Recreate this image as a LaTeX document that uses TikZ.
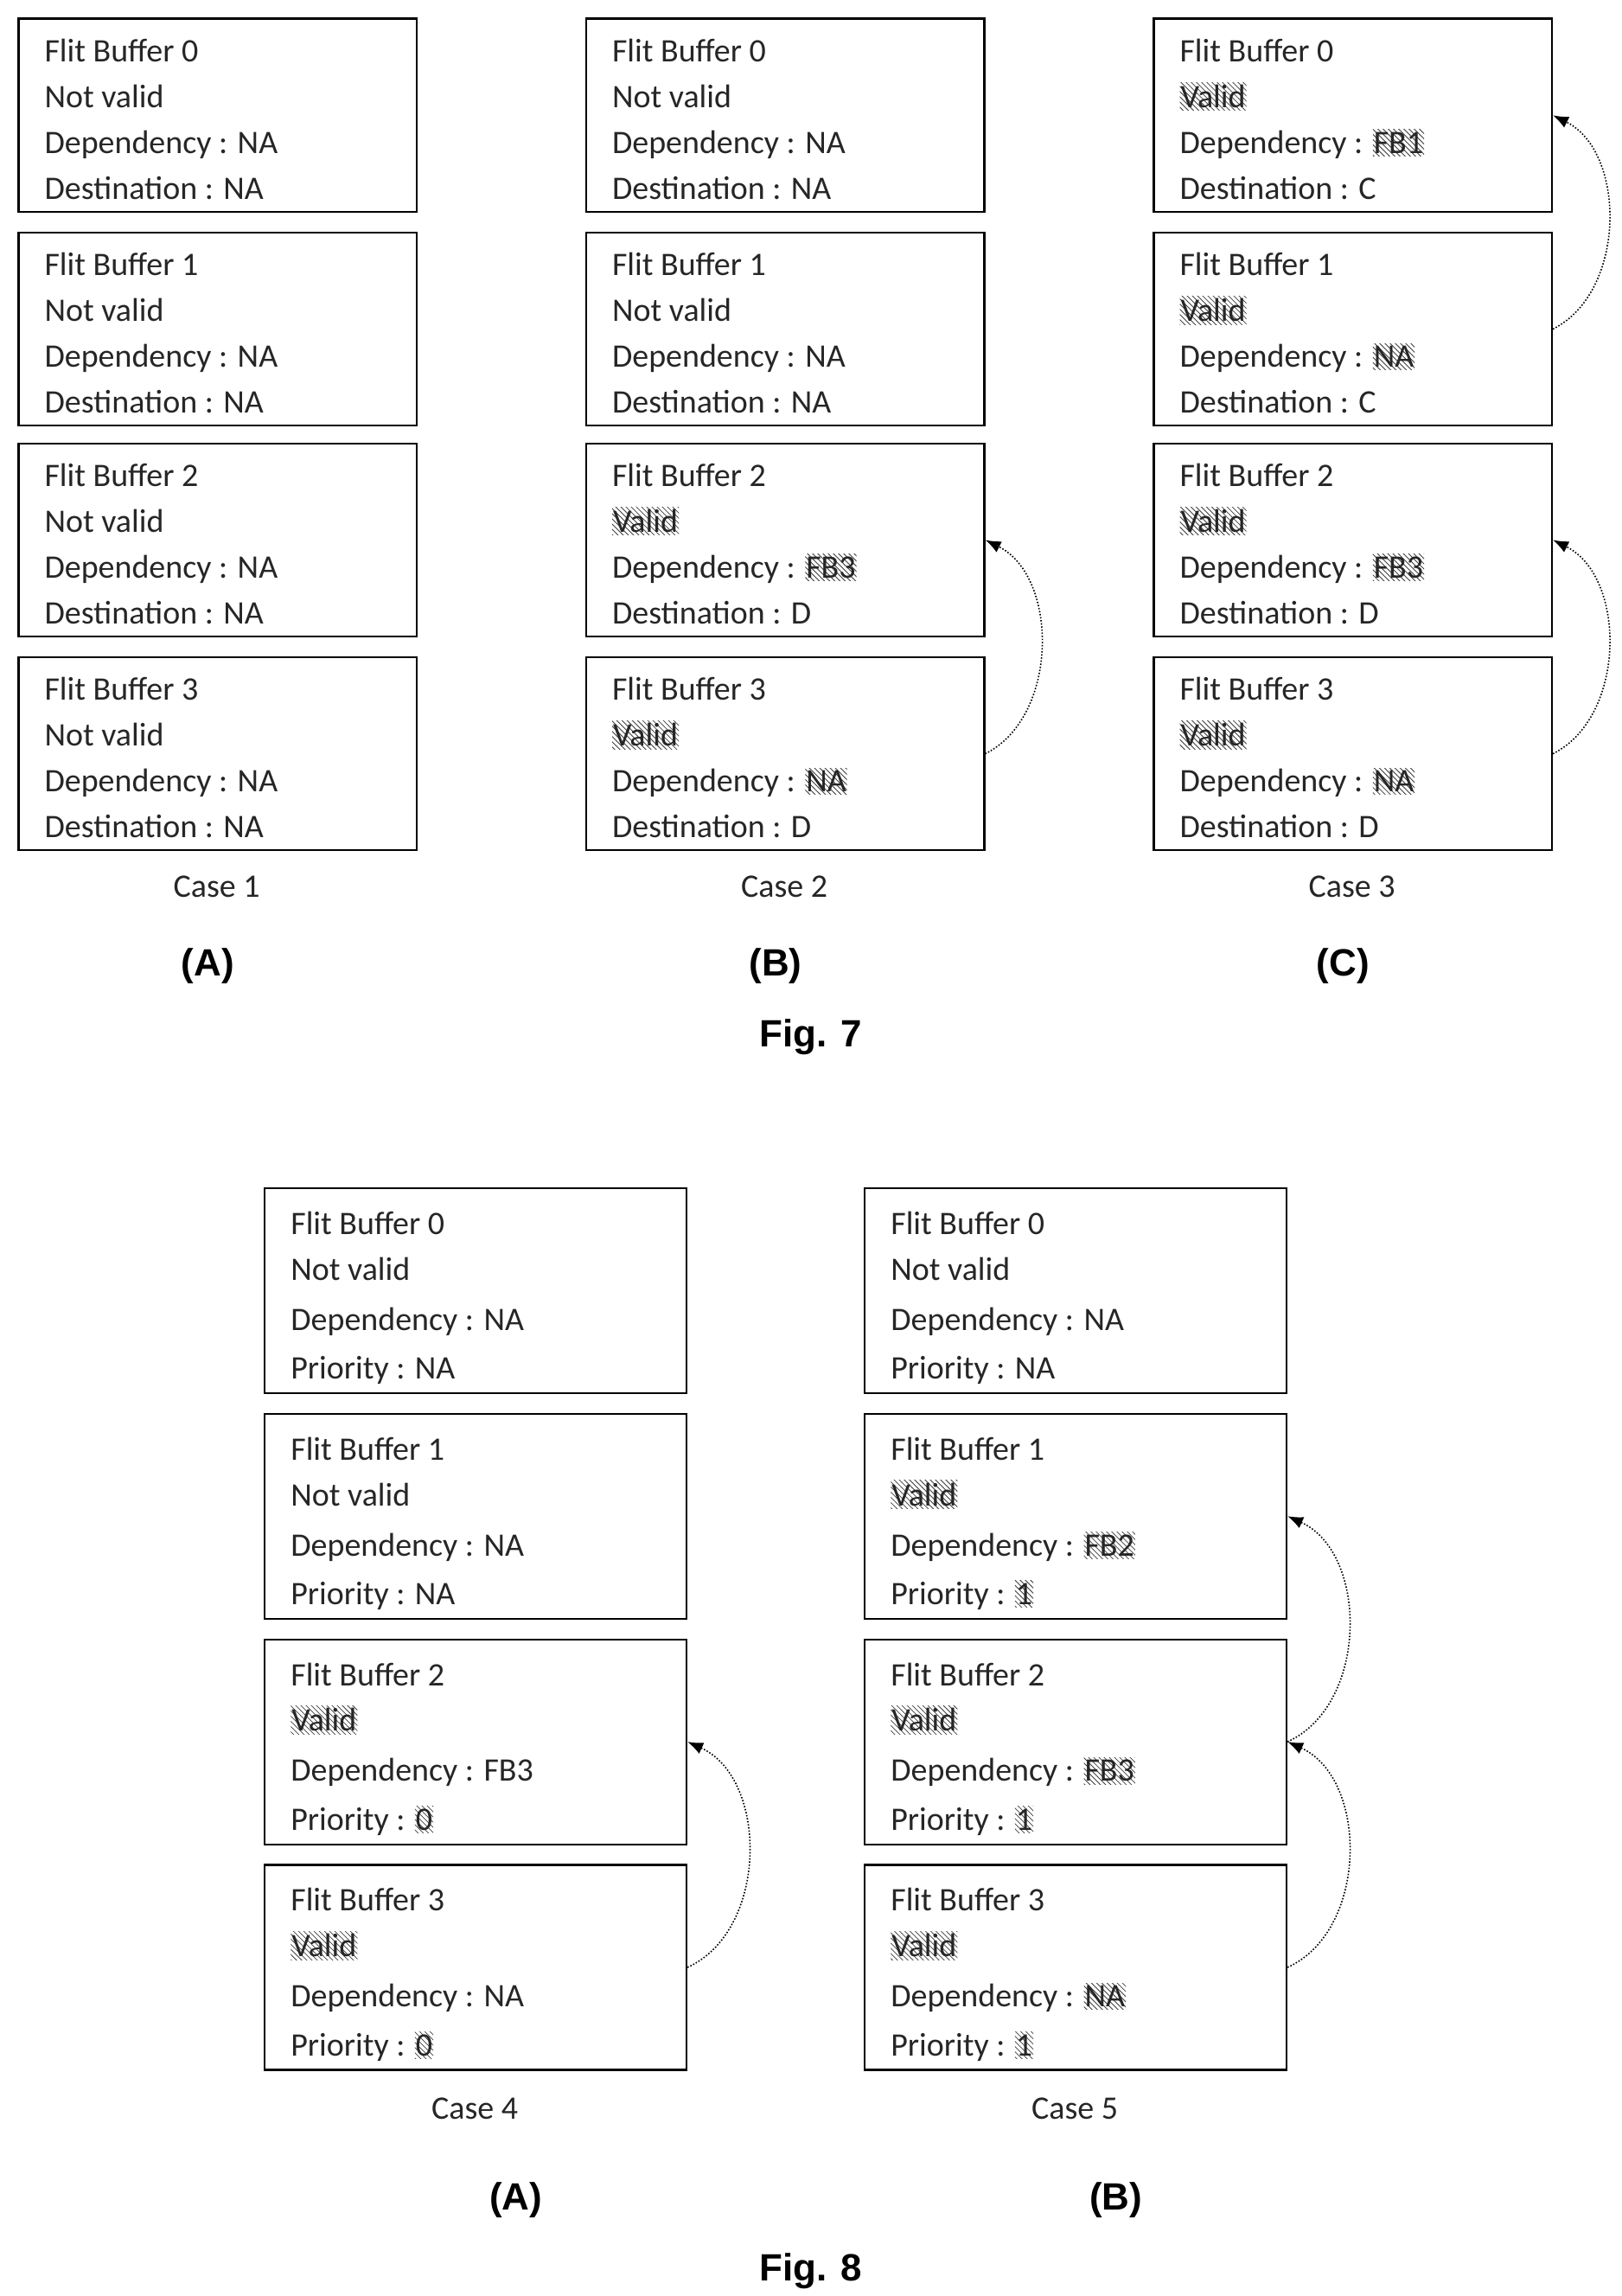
\documentclass[tikz,border=0pt]{standalone}
\usepackage{fontspec}
\setmainfont{Carlito}
\newfontfamily\capfont{Liberation Sans}
\usetikzlibrary{patterns,arrows.meta}
\newcommand{\hl}[1]{\tikz[baseline]\node[anchor=base,inner xsep=0.5pt,inner ysep=1.5pt,pattern=north west lines,pattern color=black!75]{#1};}
\begin{document}
\begin{tikzpicture}[x=0.03cm,y=-0.03cm,
  box/.style={draw,line width=1.1pt,anchor=north west,minimum width=#1*0.03cm,inner sep=0},
  txt/.style={anchor=base west,inner sep=0,font=\fontsize{19}{22}\selectfont,text=black!85},
  case/.style={font=\fontsize{19}{22}\selectfont,text=black!85},
  lab/.style={font=\capfont\bfseries\fontsize{22}{26}\selectfont},
  dep/.style={densely dotted,line width=0.8pt,-{Latex[length=9pt,width=7pt]}}]
\useasboundingbox (0,0) rectangle (1100,1557);
% Fig 7
\foreach \col/\x/\cs in {A/12/1,B/397/2,C/782/3}{
  \foreach \i/\y in {0/12,1/157,2/300,3/445}{
    \node[box=270,minimum height=131*0.03cm] (f7\col\i) at (\x,\y) {};
  }
  \node[case] (c7\col) at (\x+135,601) {Case \cs};
  \node[lab] (l7\col) at (\x+129,655) {(\col)};
}
\newcommand{\fseven}[6]{% col, box, y, valid, dep, dest
  \node[txt] at (#1+18,#2+24+6) {Flit Buffer #3};
  \node[txt] at (#1+18,#2+55+6) {#4};
  \node[txt] at (#1+18,#2+86+6) {Dependency : #5};
  \node[txt] at (#1+18,#2+117+6) {Destination : #6};}
\foreach \i/\y in {0/12,1/157,2/300,3/445}{\fseven{12}{\y}{\i}{Not valid}{NA}{NA}}
\fseven{397}{12}{0}{Not valid}{NA}{NA}
\fseven{397}{157}{1}{Not valid}{NA}{NA}
\fseven{397}{300}{2}{\hl{Valid}}{\hl{FB3}}{D}
\fseven{397}{445}{3}{\hl{Valid}}{\hl{NA}}{D}
\fseven{782}{12}{0}{\hl{Valid}}{\hl{FB1}}{C}
\fseven{782}{157}{1}{\hl{Valid}}{\hl{NA}}{C}
\fseven{782}{300}{2}{\hl{Valid}}{\hl{FB3}}{D}
\fseven{782}{445}{3}{\hl{Valid}}{\hl{NA}}{D}
\node[lab] (fig7) at (550,703) {Fig. 7};
\draw[dep] (f7B3.east) .. controls +(50,-25) and +(50,25) .. (f7B2.east);
\draw[dep] (f7C1.east) .. controls +(50,-25) and +(50,25) .. (f7C0.east);
\draw[dep] (f7C3.east) .. controls +(50,-25) and +(50,25) .. (f7C2.east);
% Fig 8
\foreach \col/\x/\cs in {A/179/4,B/586/5}{
  \foreach \i/\y in {0/805,1/958,2/1111,3/1264}{
    \node[box=286,minimum height=139*0.03cm] (f8\col\i) at (\x,\y) {};
  }
  \node[case] (c8\col) at (\x+143,1430) {Case \cs};
  \node[lab] (l8\col) at (\x+171,1492) {(\col)};
}
\newcommand{\feight}[6]{%
  \node[txt] at (#1+18,#2+26+6) {Flit Buffer #3};
  \node[txt] at (#1+18,#2+57+6) {#4};
  \node[txt] at (#1+18,#2+91+6) {Dependency : #5};
  \node[txt] at (#1+18,#2+124+6) {Priority : #6};}
\feight{179}{805}{0}{Not valid}{NA}{NA}
\feight{179}{958}{1}{Not valid}{NA}{NA}
\feight{179}{1111}{2}{\hl{Valid}}{FB3}{\hl{0}}
\feight{179}{1264}{3}{\hl{Valid}}{NA}{\hl{0}}
\feight{586}{805}{0}{Not valid}{NA}{NA}
\feight{586}{958}{1}{\hl{Valid}}{\hl{FB2}}{\hl{1}}
\feight{586}{1111}{2}{\hl{Valid}}{\hl{FB3}}{\hl{1}}
\feight{586}{1264}{3}{\hl{Valid}}{\hl{NA}}{\hl{1}}
\node[lab] (fig8) at (550,1540) {Fig. 8};
\draw[dep] (f8A3.east) .. controls +(55,-25) and +(55,25) .. (f8A2.east);
\draw[dep] (f8B3.east) .. controls +(55,-25) and +(55,25) .. (f8B2.east);
\draw[dep] (f8B2.east) .. controls +(55,-25) and +(55,25) .. (f8B1.east);
\end{tikzpicture}
\end{document}
